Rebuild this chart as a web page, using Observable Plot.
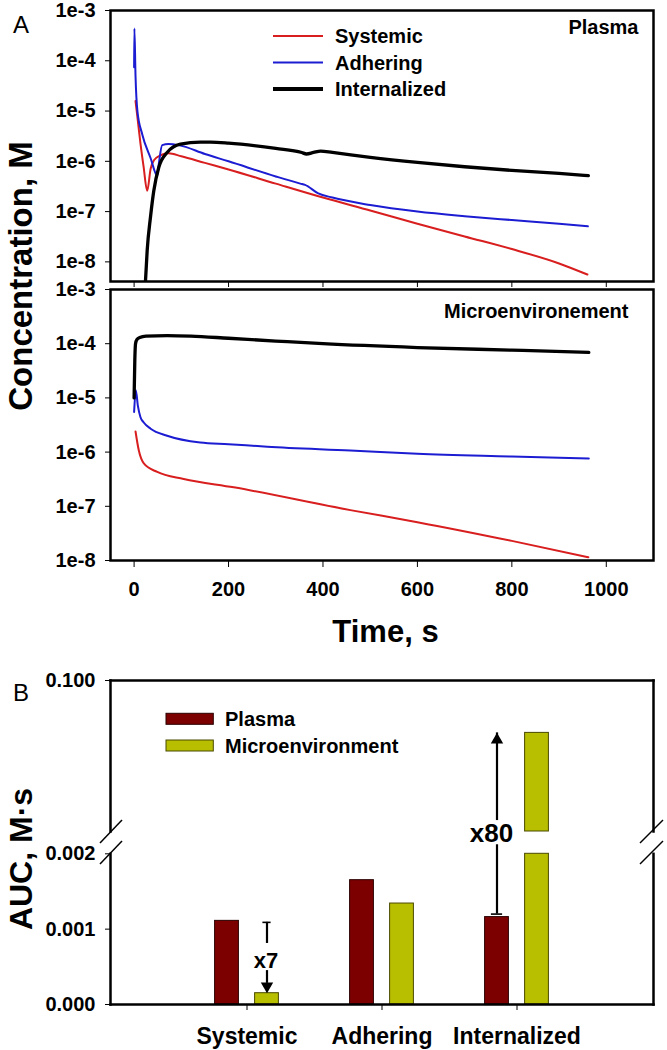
<!DOCTYPE html>
<html>
<head>
<meta charset="utf-8">
<script src="https://cdn.jsdelivr.net/npm/d3@7"></script>
<script src="https://cdn.jsdelivr.net/npm/@observablehq/plot@0.6"></script>
<style>
  html, body { margin: 0; padding: 0; background: #fff; }
  #fig { position: relative; width: 667px; height: 1050px; overflow: hidden; font-family: 'Liberation Sans', Arial, Helvetica, sans-serif; }
  #fig > div, #fig > svg { position: absolute; left: 0; }
</style>
</head>
<body>
<div id="fig">
  <div id="pTop" style="top:0px"></div>
  <div id="pBottom" style="top:280px"></div>
  <div id="bUpper" style="top:660px"></div>
  <div id="bLower" style="top:840px"></div>
</div>
<script>
(function () {
// ---------------- DATA ----------------
const timeTicks = [0, 200, 400, 600, 800, 1000];
const concTicks = [1e-3, 1e-4, 1e-5, 1e-6, 1e-7, 1e-8];
const concTickLabels = ["1e-3", "1e-4", "1e-5", "1e-6", "1e-7", "1e-8"];

const seriesNames = ["Systemic", "Adhering", "Internalized"];
const seriesColors = ["#d81e1e", "#1c1cd2", "#000000"];
const seriesWidths = [2, 2, 3.3];

// Plasma panel: [time s, concentration M]
const plasmaSystemic = [
  [3, 1.58e-5], [8, 6.3e-6], [13.5, 2.24e-6], [20, 7.9e-7], [27.7, 2.6e-7], [35, 7.1e-7],
  [42, 1.05e-6], [56, 1.32e-6], [73, 1.45e-6], [100, 1.26e-6], [150, 9.3e-7], [200, 6.9e-7],
  [300, 3.6e-7], [400, 1.9e-7], [500, 1.05e-7], [600, 5.75e-8], [700, 3.2e-8], [800, 1.8e-8],
  [900, 9.3e-9], [960, 5.6e-9]
];
const plasmaAdhering = [
  [0, 7.4e-5], [0.6, 4.4e-4], [3, 5.0e-5], [7, 1.0e-5], [17, 3.5e-6], [35, 1.15e-6],
  [49, 5.2e-7], [53, 1.0e-6], [59.5, 2.1e-6], [73, 2.2e-6], [94, 2.1e-6], [150, 1.4e-6],
  [200, 1.0e-6], [300, 5.0e-7], [352, 3.6e-7], [362, 3.4e-7], [390, 2.3e-7], [420, 1.9e-7],
  [500, 1.35e-7], [600, 1.0e-7], [700, 8.1e-8], [800, 6.8e-8], [900, 5.75e-8], [961, 5.1e-8]
];
const plasmaInternalized = [
  [21, 1e-9], [24, 4e-9], [27.7, 1.7e-8], [34.7, 7.8e-8], [41.7, 2.6e-7], [52.3, 7.6e-7],
  [70, 1.5e-6], [98, 2.2e-6], [140, 2.4e-6], [162, 2.4e-6], [200, 2.3e-6], [300, 1.8e-6],
  [355, 1.5e-6], [365, 1.4e-6], [380, 1.5e-6], [395, 1.6e-6], [420, 1.5e-6], [500, 1.2e-6],
  [600, 9.5e-7], [700, 7.8e-7], [800, 6.6e-7], [900, 5.75e-7], [962, 5.2e-7]
];

// Microenvironment panel
const microSystemic = [
  [3, 2.4e-6], [10, 1.07e-6], [20.6, 6.2e-7], [49, 4.3e-7], [105, 3.2e-7], [211, 2.24e-7],
  [458, 8.5e-8], [600, 5.1e-8], [800, 2.3e-8], [962, 1.15e-8]
];
const microAdhering = [
  [0, 5.5e-6], [3.6, 1.38e-5], [8, 7.1e-6], [13.5, 4.4e-6], [20, 3.55e-6], [35, 2.7e-6],
  [70, 2.0e-6], [140, 1.5e-6], [200, 1.4e-6], [282, 1.26e-6], [458, 1.07e-6], [600, 9.3e-7],
  [800, 8.3e-7], [963, 7.6e-7]
];
const microInternalized = [
  [0, 1.0e-5], [1.5, 5.0e-5], [3, 1.0e-4], [6, 1.2e-4], [12, 1.3e-4], [25, 1.38e-4],
  [70, 1.41e-4], [120, 1.38e-4], [200, 1.26e-4], [300, 1.12e-4], [400, 1.0e-4],
  [600, 8.5e-5], [800, 7.6e-5], [963, 6.9e-5]
];

// Panel B: AUC (M·s)
const aucCategories = ["Systemic", "Adhering", "Internalized"];
const aucSeries = ["Plasma", "Microenvironment"];
const aucColors = ["#7d0000", "#b8be00"];
const aucStrokes = ["#2a0000", "#4a4a00"];
const aucPlasma = [0.00111, 0.00165, 0.00116];
const aucMicro = [0.00015, 0.00134, 0.066];
const aucLowTicks = [0, 0.001, 0.002];
const aucHighTicks = [0.1];

// ---------------- HELPERS ----------------
const FONT = "'Liberation Sans', Arial, Helvetica, sans-serif";
const baseStyle = {fontFamily: FONT, fontSize: "20px", fontWeight: "bold", color: "black", background: "none", overflow: "visible"};
const concFormat = d => concTickLabels[concTicks.indexOf(d)];

function seriesLines(list) {
  return list.map((data, i) => Plot.line(data, {
    x: d => d[0], y: d => d[1], stroke: seriesColors[i], strokeWidth: seriesWidths[i],
    curve: "monotone-x", clip: true, strokeLinejoin: "round"
  }));
}

// ---------------- PANEL A top (Plasma) ----------------
const topPlot = Plot.plot({
  width: 667, height: 300,
  marginLeft: 110, marginRight: 14, marginTop: 10, marginBottom: 19,
  style: baseStyle,
  x: {domain: [-50, 1100]},
  y: {type: "log", domain: [4.07e-9, 1e-3]},
  marks: [
    Plot.axisY(concTicks, {tickSize: 5, tickPadding: 10, tickFormat: concFormat, label: null, fontSize: 20}),
    Plot.axisX(timeTicks, {tickSize: 6, tickFormat: () => "", label: null}),
    ...seriesLines([plasmaSystemic, plasmaAdhering, plasmaInternalized]),
    Plot.frame({stroke: "black", strokeWidth: 2.5}),
    Plot.text(["Plasma"], {frameAnchor: "top-right", textAnchor: "end", lineAnchor: "middle", dx: -15, dy: 17, fontSize: 20, fontWeight: "bold"})
  ]
});
document.getElementById("pTop").appendChild(topPlot);

// ---------------- PANEL A bottom (Microenvironment) ----------------
const bottomPlot = Plot.plot({
  width: 667, height: 330,
  marginLeft: 110, marginRight: 14, marginTop: 9, marginBottom: 50,
  style: baseStyle,
  x: {domain: [-50, 1100]},
  y: {type: "log", domain: [1e-8, 1e-3]},
  marks: [
    Plot.axisY(concTicks, {tickSize: 5, tickPadding: 10, tickFormat: concFormat, label: null, fontSize: 20}),
    Plot.axisX(timeTicks, {tickSize: 7, tickPadding: 14, tickFormat: d => String(d), label: null, fontSize: 20}),
    ...seriesLines([microSystemic, microAdhering, microInternalized]),
    Plot.frame({stroke: "black", strokeWidth: 2.5}),
    Plot.text(["Microenvironement"], {frameAnchor: "top-right", textAnchor: "end", lineAnchor: "middle", dx: -25, dy: 22, fontSize: 20, fontWeight: "bold"})
  ]
});
document.getElementById("pBottom").appendChild(bottomPlot);

// ---------------- PANEL B (broken axis) ----------------
const lowMax = 0.002;
const plasmaRows = aucCategories.map((c, i) => ({cat: c, v: aucPlasma[i]}));
const microRows = aucCategories.map((c, i) => ({cat: c, v: aucMicro[i]}));
const barInset = 55.6;

const bUpperPlot = Plot.plot({
  width: 667, height: 200,
  marginLeft: 110, marginRight: 14, marginTop: 20, marginBottom: 29,
  style: baseStyle,
  x: {domain: aucCategories, paddingInner: 0, paddingOuter: 0.5, axis: null},
  y: {domain: [lowMax, 0.1]},
  marks: [
    Plot.axisY(aucHighTicks, {tickSize: 5, tickPadding: 10, tickFormat: d3.format(".3f"), label: null, fontSize: 20}),
    Plot.barY(plasmaRows.filter(d => d.v > lowMax), {x: "cat", y1: lowMax, y2: "v", dx: -20, insetLeft: barInset, insetRight: barInset, fill: aucColors[0], stroke: aucStrokes[0], strokeWidth: 1}),
    Plot.barY(microRows.filter(d => d.v > lowMax), {x: "cat", y1: lowMax, y2: "v", dx: 20, insetLeft: barInset, insetRight: barInset, fill: aucColors[1], stroke: aucStrokes[1], strokeWidth: 1}),
    Plot.ruleX(["Internalized"], {x: d => d, y1: 0.0091, y2: aucMicro[2], dx: -20, stroke: "black", strokeWidth: 2.2}),
    Plot.dot(["Internalized"], {x: d => d, y: aucMicro[2], dx: -20, dy: 7, symbol: "triangle", r: 4.6, fill: "black", stroke: "none"}),
    Plot.text(["x80"], {x: () => "Internalized", y: lowMax, dx: -25.5, dy: 2, fontSize: 26, fontWeight: "bold"}),
    Plot.frame({anchor: "top", stroke: "black", strokeWidth: 2.5}),
    Plot.frame({anchor: "left", stroke: "black", strokeWidth: 2.5}),
    Plot.frame({anchor: "right", stroke: "black", strokeWidth: 2.5})
  ]
});
document.getElementById("bUpper").appendChild(bUpperPlot);

const bLowerPlot = Plot.plot({
  width: 667, height: 210,
  marginLeft: 110, marginRight: 14, marginTop: 13.3, marginBottom: 46,
  style: baseStyle,
  x: {domain: aucCategories, paddingInner: 0, paddingOuter: 0.5},
  y: {domain: [0, lowMax]},
  marks: [
    Plot.axisY(aucLowTicks, {tickSize: 5, tickPadding: 10, tickFormat: d3.format(".3f"), label: null, fontSize: 20}),
    Plot.axisX(aucCategories, {tickSize: 6, tickPadding: 17, label: null, fontSize: 23}),
    Plot.barY(plasmaRows, {x: "cat", y1: 0, y2: d => Math.min(d.v, lowMax), dx: -20, insetLeft: barInset, insetRight: barInset, fill: aucColors[0], stroke: aucStrokes[0], strokeWidth: 1}),
    Plot.barY(microRows, {x: "cat", y1: 0, y2: d => Math.min(d.v, lowMax), dx: 20, insetLeft: barInset, insetRight: barInset, fill: aucColors[1], stroke: aucStrokes[1], strokeWidth: 1}),
    Plot.tickY(["Systemic"], {x: d => d, y: 0.00109, dx: 20, insetLeft: 63.4, insetRight: 63.4, stroke: "black", strokeWidth: 1.6}),
    Plot.ruleX(["Systemic"], {x: d => d, y1: 0.00109, y2: 0.00081, dx: 20, stroke: "black", strokeWidth: 2.2}),
    Plot.text(["x7"], {x: () => "Systemic", y: 0.00058, dx: 19, fontSize: 22, fontWeight: "bold"}),
    Plot.ruleX(["Systemic"], {x: d => d, y1: 0.00045, y2: 0.00028, dx: 20, stroke: "black", strokeWidth: 2.2}),
    Plot.dot(["Systemic"], {x: d => d, y: aucMicro[0], dx: 20, dy: -7, symbol: "triangle", rotate: 180, r: 4.6, fill: "black", stroke: "none"}),
    Plot.tickY(["Internalized"], {x: d => d, y: aucPlasma[2], dx: -20, dy: -3, insetLeft: 61.9, insetRight: 61.9, stroke: "black", strokeWidth: 1.6}),
    Plot.ruleX(["Internalized"], {x: d => d, y1: aucPlasma[2], y2: 0.00208, dx: -20, dy: -3, stroke: "black", strokeWidth: 2.2}),
    Plot.frame({anchor: "bottom", stroke: "black", strokeWidth: 2.5}),
    Plot.frame({anchor: "left", stroke: "black", strokeWidth: 2.5}),
    Plot.frame({anchor: "right", stroke: "black", strokeWidth: 2.5})
  ]
});
document.getElementById("bLower").appendChild(bLowerPlot);

// ---------------- OVERLAY: titles, legends, break marks ----------------
const fig = d3.select("#fig");
const ov = fig.append("svg").attr("width", 667).attr("height", 1050)
  .style("top", "0px").style("pointer-events", "none")
  .attr("font-family", FONT);

ov.append("text").attr("x", 13).attr("y", 33).attr("font-size", 24).text("A");
ov.append("text").attr("x", 13).attr("y", 701).attr("font-size", 24).text("B");

ov.append("text").attr("transform", "translate(32,276) rotate(-90)")
  .attr("text-anchor", "middle").attr("font-size", 33).attr("font-weight", "bold").text("Concentration, M");
ov.append("text").attr("x", 385.5).attr("y", 642)
  .attr("text-anchor", "middle").attr("font-size", 31).attr("font-weight", "bold").text("Time, s");
ov.append("text").attr("transform", "translate(32,859) rotate(-90)")
  .attr("text-anchor", "middle").attr("font-size", 32).attr("font-weight", "bold").text("AUC, M·s");

seriesNames.forEach((name, i) => {
  const y = 36 + i * 26.5;
  ov.append("line").attr("x1", 273).attr("x2", 323).attr("y1", y).attr("y2", y)
    .attr("stroke", seriesColors[i]).attr("stroke-width", i === 2 ? 4 : 2.2);
  ov.append("text").attr("x", 335).attr("y", y + 7).attr("font-size", 20).attr("font-weight", "bold").text(name);
});

aucSeries.forEach((name, i) => {
  const y = 713.3 + i * 26.7;
  ov.append("rect").attr("x", 166).attr("y", y).attr("width", 47.3).attr("height", 11)
    .attr("fill", aucColors[i]).attr("stroke", aucStrokes[i]).attr("stroke-width", 1);
  ov.append("text").attr("x", 225).attr("y", y + 12.5).attr("font-size", 20).attr("font-weight", "bold").text(name);
});

[[100, 122], [640, 663]].forEach(([xa, xb]) => {
  ov.append("line").attr("x1", xa).attr("y1", 843).attr("x2", xb).attr("y2", 820).attr("stroke", "black").attr("stroke-width", 1.5);
  ov.append("line").attr("x1", xa).attr("y1", 864).attr("x2", xb).attr("y2", 841).attr("stroke", "black").attr("stroke-width", 1.5);
});
})();
</script>
</body>
</html>
